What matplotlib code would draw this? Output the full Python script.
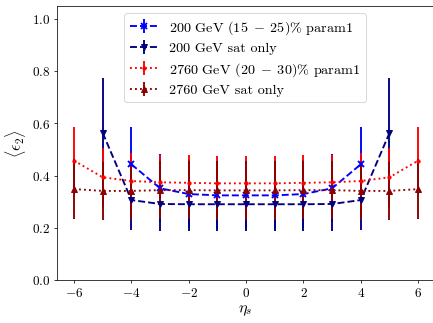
import matplotlib
matplotlib.use('Agg')
import matplotlib.pyplot as plt
import numpy as np

plt.rcParams['font.family'] = 'serif'
plt.rcParams['font.serif'] = ['cmr10', 'DejaVu Serif']
plt.rcParams['mathtext.fontset'] = 'cm'
plt.rcParams['axes.formatter.use_mathtext'] = True
plt.rcParams['font.size'] = 14

# 200 GeV (15-25)% param1
eta_200p = [-4, -3, -2, -1, 0, 1, 2, 3, 4]
e2_200p = [0.443, 0.351, 0.329, 0.324, 0.324, 0.324, 0.329, 0.351, 0.443]
err_200p = [0.142, 0.13, 0.13, 0.13, 0.13, 0.13, 0.13, 0.13, 0.142]

# 200 GeV sat only
eta_200s = [-5, -4, -3, -2, -1, 0, 1, 2, 3, 4, 5]
e2_200s = [0.563, 0.306, 0.291, 0.290, 0.290, 0.290, 0.290, 0.290, 0.291, 0.306, 0.563]
err_200s = [0.212, 0.116, 0.103, 0.102, 0.102, 0.102, 0.102, 0.102, 0.103, 0.116, 0.212]

# 2760 GeV (20-30)% param1
eta_2760p = [-6, -5, -4, -3, -2, -1, 0, 1, 2, 3, 4, 5, 6]
e2_2760p = [0.457, 0.393, 0.379, 0.374, 0.372, 0.370, 0.370, 0.370, 0.372, 0.374, 0.379, 0.393, 0.457]
err_2760p = [0.13, 0.113, 0.108, 0.106, 0.105, 0.105, 0.105, 0.105, 0.105, 0.106, 0.108, 0.113, 0.13]

# 2760 GeV sat only
eta_2760s = [-6, -5, -4, -3, -2, -1, 0, 1, 2, 3, 4, 5, 6]
e2_2760s = [0.348, 0.341, 0.341, 0.344, 0.344, 0.343, 0.343, 0.343, 0.344, 0.344, 0.341, 0.341, 0.348]
err_2760s = [0.116, 0.11, 0.11, 0.112, 0.112, 0.112, 0.112, 0.112, 0.112, 0.112, 0.11, 0.11, 0.116]

fig = plt.figure(figsize=(6.4, 4.77), dpi=67.8)
ax = fig.add_axes([0.131, 0.133, 0.867, 0.848])

ax.errorbar(eta_200p, e2_200p, yerr=err_200p, color='blue', ls='--', marker='x',
            ms=6, mew=2, lw=2, elinewidth=2,
            label=r'200 GeV $(15\;-\;25)\%$ param1')
ax.errorbar(eta_200s, e2_200s, yerr=err_200s, color='navy', ls='--', marker='v',
            ms=7, lw=2, elinewidth=2,
            label='200 GeV sat only')
ax.errorbar(eta_2760p, e2_2760p, yerr=err_2760p, color='red', ls=':', marker='.',
            ms=7, lw=2, elinewidth=2,
            label=r'2760 GeV $(20\;-\;30)\%$ param1')
ax.errorbar(eta_2760s, e2_2760s, yerr=err_2760s, color='darkred', ls=':', marker='^',
            ms=7, lw=2, elinewidth=2,
            label='2760 GeV sat only')

ax.set_xlim(-6.6, 6.52)
ax.set_ylim(0, 1.05)
ax.set_xticks([-6, -4, -2, 0, 2, 4, 6])
ax.set_yticks([0.0, 0.2, 0.4, 0.6, 0.8, 1.0])
ax.set_xlabel(r'$\eta_s$', fontsize=17)
ax.set_ylabel(r'$\langle\epsilon_2\rangle$', fontsize=17)
ax.legend(loc='upper center', fontsize=15, labelspacing=0.4)

fig.savefig('out.png', dpi=67.8)
